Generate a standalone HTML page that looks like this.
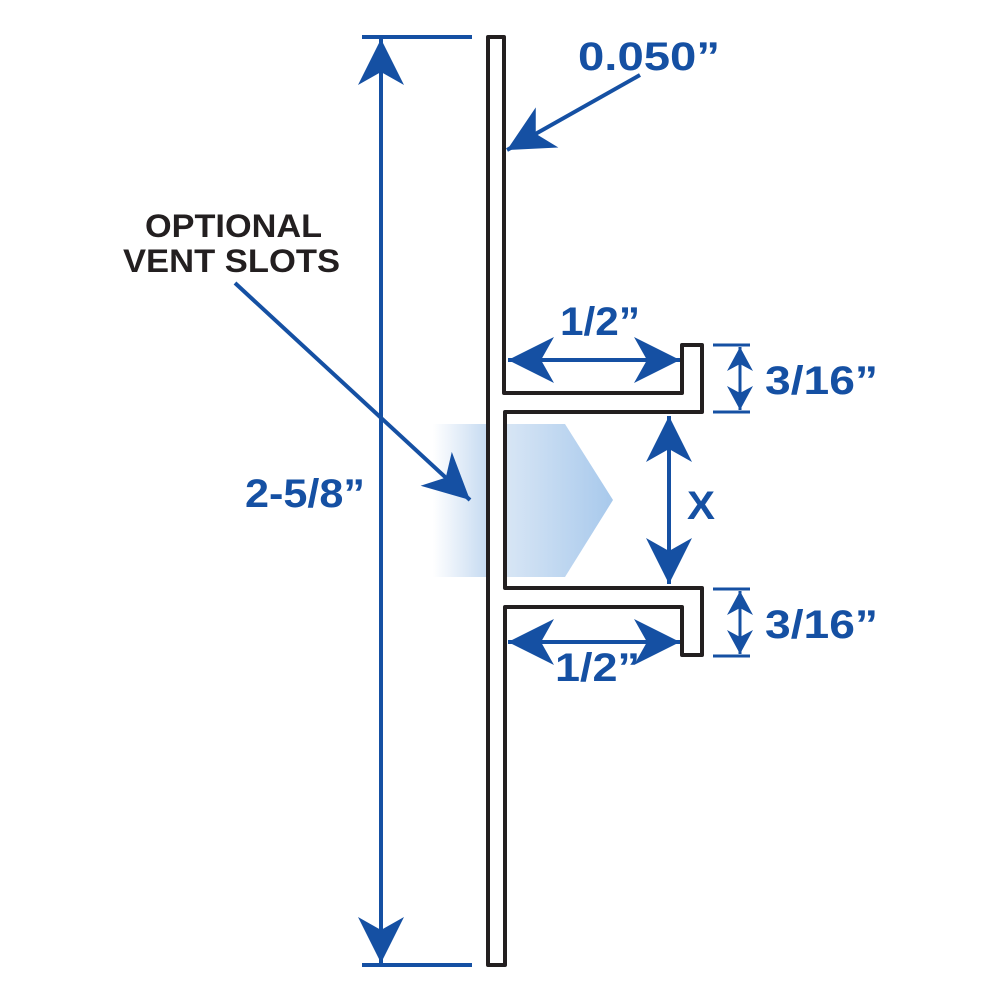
<!DOCTYPE html>
<html><head><style>
html,body{margin:0;padding:0;background:#fff;}
svg{display:block}
text{font-family:"Liberation Sans",Arial,sans-serif;font-weight:bold}
</style></head><body>
<svg width="1000" height="1000" viewBox="0 0 1000 1000" xmlns="http://www.w3.org/2000/svg">
<defs>
<linearGradient id="g1" x1="0" x2="1" y1="0" y2="0">
<stop offset="0" stop-color="#ffffff"/><stop offset="1" stop-color="#c5daf1"/>
</linearGradient>
<linearGradient id="g2" x1="0" x2="1" y1="0" y2="0">
<stop offset="0" stop-color="#d8e6f5"/><stop offset="1" stop-color="#a8c9ec"/>
</linearGradient>
<marker id="big" markerUnits="userSpaceOnUse" markerWidth="60" markerHeight="60" refX="0" refY="0" viewBox="-50 -30 60 60" orient="auto-start-reverse">
<path d="M0,0 L-46,-23 L-33,0 L-46,23 Z" fill="#1550a3"/>
</marker>
<marker id="sm" markerUnits="userSpaceOnUse" markerWidth="40" markerHeight="40" refX="0" refY="0" viewBox="-30 -20 40 40" orient="auto-start-reverse">
<path d="M0,0 L-24,-13 L-17,0 L-24,13 Z" fill="#1550a3"/>
</marker>
</defs>
<rect x="433" y="424" width="55" height="153" fill="url(#g1)"/>
<polygon points="505,424 565,424 613,500 565,577 505,577" fill="url(#g2)"/>
<path d="M488,37 H504 V393 H682 V345 H702 V412 H505 V588 H702 V655 H682 V607 H505 V965 H488 Z" fill="none" stroke="#231f20" stroke-width="4" stroke-linejoin="round"/>
<g stroke="#1550a3" fill="none">
<line x1="362" y1="37" x2="472" y2="37" stroke-width="4"/>
<line x1="362" y1="965" x2="472" y2="965" stroke-width="4"/>
<line x1="381" y1="39" x2="381" y2="963" stroke-width="4" marker-start="url(#big)" marker-end="url(#big)"/>
<line x1="640" y1="75" x2="507" y2="150" stroke-width="4" marker-end="url(#big)"/>
<line x1="235" y1="283" x2="470" y2="500" stroke-width="4" marker-end="url(#big)"/>
<line x1="508" y1="360" x2="680" y2="360" stroke-width="4" marker-start="url(#big)" marker-end="url(#big)"/>
<line x1="508" y1="642" x2="680" y2="642" stroke-width="4" marker-start="url(#big)" marker-end="url(#big)"/>
<line x1="669" y1="416" x2="669" y2="584" stroke-width="4" marker-start="url(#big)" marker-end="url(#big)"/>
<line x1="713" y1="345" x2="750" y2="345" stroke-width="3"/>
<line x1="713" y1="412" x2="750" y2="412" stroke-width="3"/>
<line x1="740" y1="347" x2="740" y2="410" stroke-width="3" marker-start="url(#sm)" marker-end="url(#sm)"/>
<line x1="713" y1="589" x2="750" y2="589" stroke-width="3"/>
<line x1="713" y1="656" x2="750" y2="656" stroke-width="3"/>
<line x1="740" y1="591" x2="740" y2="654" stroke-width="3" marker-start="url(#sm)" marker-end="url(#sm)"/>
</g>
<g fill="#1550a3" font-size="40" lengthAdjust="spacingAndGlyphs">
<text x="578" y="70" textLength="142" lengthAdjust="spacingAndGlyphs">0.050”</text>
<text x="245" y="507" textLength="120" lengthAdjust="spacingAndGlyphs">2-5/8”</text>
<text x="560" y="335" textLength="80" lengthAdjust="spacingAndGlyphs">1/2”</text>
<text x="555" y="681" textLength="85" lengthAdjust="spacingAndGlyphs">1/2”</text>
<text x="765" y="394" textLength="113" lengthAdjust="spacingAndGlyphs">3/16”</text>
<text x="765" y="638" textLength="113" lengthAdjust="spacingAndGlyphs">3/16”</text>
<text x="687" y="519" textLength="28" lengthAdjust="spacingAndGlyphs">X</text>
</g>
<g fill="#231f20" font-size="32">
<text x="145" y="237" textLength="177" lengthAdjust="spacingAndGlyphs">OPTIONAL</text>
<text x="123" y="272" textLength="217" lengthAdjust="spacingAndGlyphs">VENT SLOTS</text>
</g>
</svg>
</body></html>
